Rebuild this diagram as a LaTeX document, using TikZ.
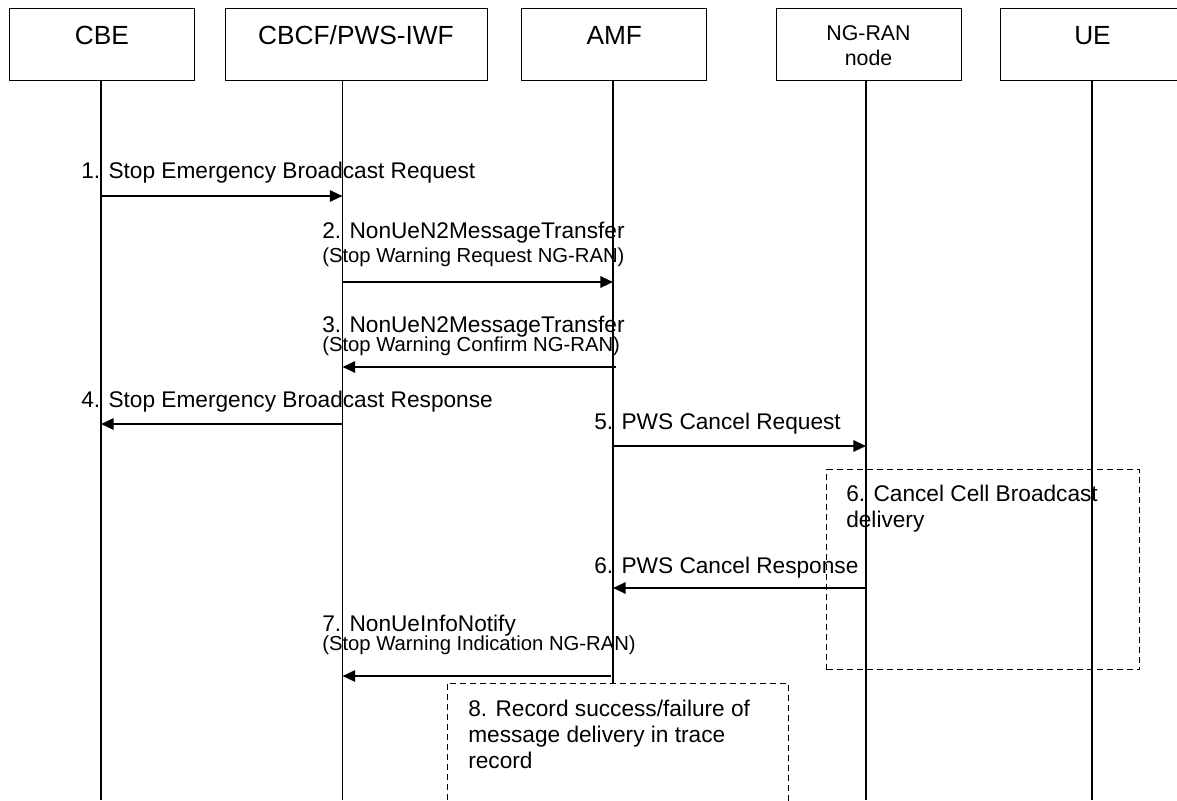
\documentclass[tikz,border=0pt]{standalone}
\usepackage{fontspec}
\setmainfont{Liberation Sans}
\usetikzlibrary{arrows.meta}
\begin{document}
\begin{tikzpicture}[x=0.75pt,y=-0.75pt,
  ent/.style={draw, line width=0.75pt, inner sep=0, minimum height=54pt},
  entlab/.style={font=\fontsize{19.7}{23}\selectfont, inner sep=0, anchor=base, yshift=-27pt},
  entlab2/.style={font=\fontsize{16}{19.3}\selectfont, inner sep=0, anchor=north, align=center, yshift=-12.75pt},
  life/.style={line width=1pt},
  msg/.style={line width=1.5pt, -{Triangle[length=9.5pt,width=8.5pt]}},
  lab/.style={font=\fontsize{17}{20}\selectfont, inner sep=0, anchor=base west},
  sub/.style={font=\fontsize{15.2}{18}\selectfont, inner sep=0, anchor=base west},
  note/.style={font=\fontsize{17}{19.5}\selectfont, inner sep=0, anchor=north west, align=left},
  act/.style={draw, dash pattern=on 4.5pt off 3pt, line width=0.75pt, inner sep=0}]
\useasboundingbox (0,0) rectangle (1177,800);
\fill[white] (0,0) rectangle (1177,800);

% entities
\node[ent, minimum width=138.75pt, label={[entlab]north:CBE}] (cbe) at (102,44.5) {};
\node[ent, minimum width=196.5pt, label={[entlab]north:CBCF/PWS-IWF}] (cbcf) at (356,44.5) {};
\node[ent, minimum width=138.75pt, label={[entlab]north:AMF}] (amf) at (614.3,44.5) {};
\node[ent, minimum width=138.75pt, label={[entlab2]north:NG-RAN\\node}] (ng) at (868.5,44.5) {};
\node[ent, minimum width=138.75pt, label={[entlab]north:UE}] (ue) at (1092.5,44.5) {};

% lifeline ends
\coordinate (cbebot) at (101,800);
\coordinate (cbcfbot) at (342.5,800);
\coordinate (amfbot) at (613,683);
\coordinate (ngbot) at (866,800);
\coordinate (uebot) at (1092,800);

\draw[life] (cbe.south -| cbebot) -- (cbebot);
\draw[life] (cbcf.south -| cbcfbot) -- (cbcfbot);
\draw[life] (amf.south -| amfbot) -- (amfbot);
\draw[life] (ng.south -| ngbot) -- (ngbot);
\draw[life] (ue.south -| uebot) -- (uebot);

% activity boxes
\node[act, anchor=north west, minimum width=234.75pt, minimum height=150pt] (cancel) at (826,469) {};
\node[note] (canceltxt) at (846,485) {6. Cancel Cell Broadcast\\delivery};
\draw[act] (447,820) -- (447,683) -- (788,683) -- (788,820);
\node[note] (rectxt) at (468,700) {8. Record success/failure of\\message delivery in trace\\record};

% 1
\node[lab] (m1) at (81,178) {1. Stop Emergency Broadcast Request};
\draw[msg] (cbebot |- 0,196) -- (cbcfbot |- 0,196);
% 2
\node[lab] (m2) at (322,238) {2. NonUeN2MessageTransfer};
\node[sub] (m2b) at (322,262) {(Stop Warning Request NG-RAN)};
\draw[msg] (cbcfbot |- 0,282) -- (amfbot |- 0,282);
% 3
\node[lab] (m3) at (322,332) {3. NonUeN2MessageTransfer};
\node[sub] (m3b) at (322,351) {(Stop Warning Confirm NG-RAN)};
\draw[msg] ([xshift=2.25pt]amfbot |- 0,367) -- (cbcfbot |- 0,367);
% 4
\node[lab] (m4) at (81,407) {4. Stop Emergency Broadcast Response};
\draw[msg] (cbcfbot |- 0,424) -- (cbebot |- 0,424);
% 5
\node[lab] (m5) at (594,429) {5. PWS Cancel Request};
\draw[msg] (amfbot |- 0,446) -- (ngbot |- 0,446);
% 6
\node[lab] (m6) at (594,573) {6. PWS Cancel Response};
\draw[msg] (ngbot |- 0,588) -- (amfbot |- 0,588);
% 7
\node[lab] (m7) at (322,631) {7. NonUeInfoNotify};
\node[sub] (m7b) at (322,650) {(Stop Warning Indication NG-RAN)};
\draw[msg] ([xshift=-1.5pt]amfbot |- 0,676) -- (cbcfbot |- 0,676);
\end{tikzpicture}
\end{document}
